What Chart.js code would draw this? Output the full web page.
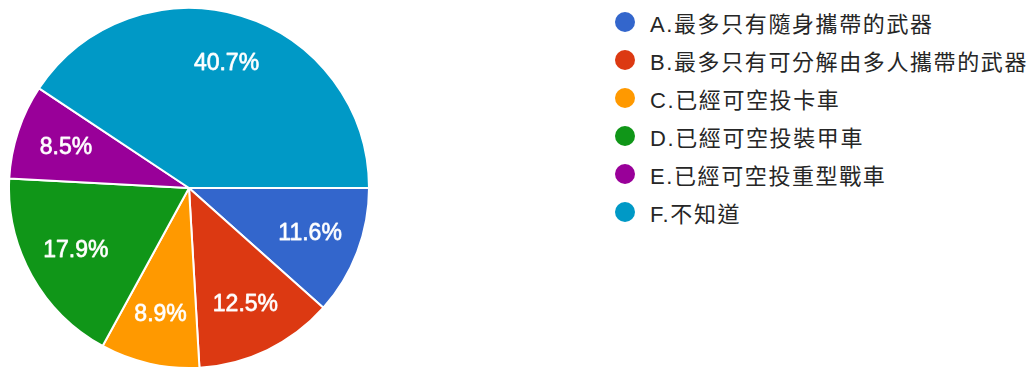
<!DOCTYPE html>
<html>
<head>
<meta charset="utf-8">
<script src="https://cdn.jsdelivr.net/npm/chart.js@4"></script>
<style>
  html, body { margin: 0; padding: 0; background: #ffffff; }
  body { width: 1033px; height: 372px; position: relative; overflow: hidden; }
  #pieWrap { position: absolute; left: 8px; top: 7px; width: 362px; height: 362px; }
  #legend { position: absolute; left: 615px; top: 3px; }
  .row { height: 38px; display: flex; align-items: center; white-space: nowrap; }
  .dot { width: 20px; height: 20px; border-radius: 50%; flex: 0 0 20px; }
  .txt { margin-left: 15px; font-family: "Liberation Sans", "Noto Sans CJK TC", sans-serif; font-size: 22px; letter-spacing: 1.6px; color: #262626; }
</style>
</head>
<body>
<div id="pieWrap"><canvas id="c"></canvas></div>
<div id="legend"></div>
<script>
const categories = [
  "A.最多只有隨身攜帶的武器",
  "B.最多只有可分解由多人攜帶的武器",
  "C.已經可空投卡車",
  "D.已經可空投裝甲車",
  "E.已經可空投重型戰車",
  "F.不知道"
];
const percentages = [11.6, 12.5, 8.9, 17.9, 8.5, 40.7];
const colors = ["#3366cc", "#dc3912", "#ff9900", "#109618", "#990099", "#0099c6"];

// HTML legend built from the arrays
const legend = document.getElementById('legend');
categories.forEach((name, i) => {
  const row = document.createElement('div');
  row.className = 'row';
  const dot = document.createElement('span');
  dot.className = 'dot';
  dot.style.background = colors[i];
  const txt = document.createElement('span');
  txt.className = 'txt';
  txt.textContent = name;
  row.appendChild(dot);
  row.appendChild(txt);
  legend.appendChild(row);
});

const sliceLabels = {
  id: 'sliceLabels',
  afterDatasetsDraw(chart) {
    const ctx = chart.ctx;
    const meta = chart.getDatasetMeta(0);
    ctx.save();
    ctx.font = '23px "Liberation Sans", Arial, sans-serif';
    ctx.fillStyle = '#ffffff';
    ctx.strokeStyle = 'rgba(255,255,255,0.85)';
    ctx.lineWidth = 0.8;
    ctx.lineJoin = 'round';
    ctx.textAlign = 'center';
    ctx.textBaseline = 'middle';
    meta.data.forEach((arc, i) => {
      const p = arc.getProps(['x', 'y', 'startAngle', 'endAngle', 'outerRadius'], true);
      const mid = (p.startAngle + p.endAngle) / 2;
      const r = p.outerRadius * 0.72;
      const t = percentages[i].toFixed(1) + '%';
      const tx = p.x + Math.cos(mid) * r;
      const ty = p.y + Math.sin(mid) * r;
      ctx.strokeText(t, tx, ty);
      ctx.fillText(t, tx, ty);
    });
    ctx.restore();
  }
};

new Chart(document.getElementById('c'), {
  type: 'pie',
  data: {
    labels: categories,
    datasets: [{
      data: percentages,
      backgroundColor: colors,
      borderColor: '#ffffff',
      borderWidth: 2,
      hoverOffset: 0,
      offset: 0
    }]
  },
  options: {
    responsive: true,
    maintainAspectRatio: false,
    animation: false,
    rotation: 90,
    layout: { padding: 0 },
    plugins: {
      legend: { display: false },
      tooltip: { enabled: false }
    }
  },
  plugins: [sliceLabels]
});
</script>
</body>
</html>
